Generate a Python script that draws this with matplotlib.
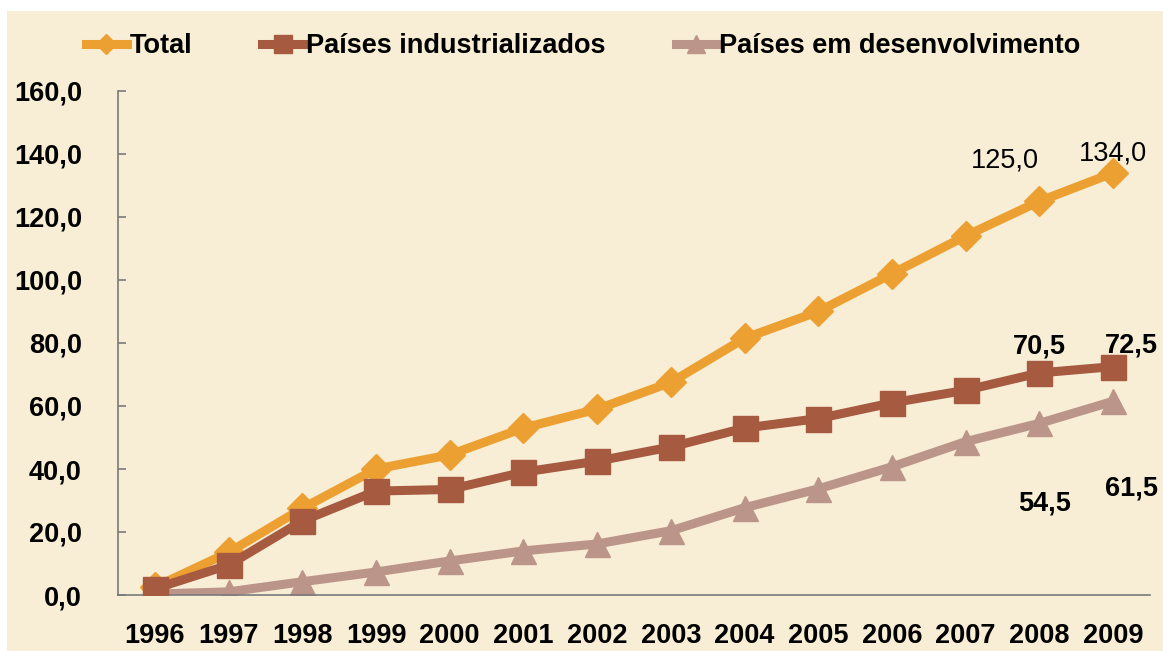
import numpy as np
import matplotlib.pyplot as plt
from matplotlib.patches import Rectangle

anos = ['1996', '1997', '1998', '1999', '2000', '2001', '2002', '2003',
        '2004', '2005', '2006', '2007', '2008', '2009']
total = [2.5, 13.5, 27.5, 40.0, 44.5, 53.0, 59.0, 67.5, 81.5, 90.0, 102.0, 114.0, 125.0, 134.0]
industrializados = [2.0, 9.5, 23.5, 33.0, 33.5, 39.0, 42.5, 47.0, 53.0, 56.0, 61.0, 65.0, 70.5, 72.5]
desenvolvimento = [0.3, 1.0, 4.2, 7.3, 10.8, 14.0, 16.2, 20.4, 27.7, 33.7, 40.7, 48.7, 54.5, 61.5]
y_ticks = [0, 20, 40, 60, 80, 100, 120, 140, 160]

bg = '#F8EDD5'
c_total = '#EDA032'
c_ind = '#A65A40'
c_dev = '#BC958A'

plt.rcParams['font.family'] = ['Liberation Sans', 'DejaVu Sans']

fig = plt.figure(figsize=(11.63, 6.51), dpi=100, facecolor='white')
fig.patches.append(Rectangle((7 / 1163, 0), 1, 1 - 11 / 651, transform=fig.transFigure,
                             facecolor=bg, edgecolor='none', zorder=-10))
ax = fig.add_axes([118 / 1163, 1 - 595 / 651, (1150 - 118) / 1163, (595 - 91) / 651])
ax.set_facecolor('none')

x = np.arange(len(anos))
ax.plot(x, total, color=c_total, lw=6.5, marker='D', ms=15, mec=c_total, label='Total', zorder=3)
ax.plot(x, industrializados, color=c_ind, lw=6.5, marker='s', ms=18, mec=c_ind,
        label='Países industrializados', zorder=4)
ax.plot(x, desenvolvimento, color=c_dev, lw=6.5, marker='^', ms=18, mec=c_dev,
        label='Países em desenvolvimento', zorder=2)

ax.set_xlim(-0.5, len(anos) - 0.5)
ax.set_ylim(0, 160)
ax.set_xticks(x)
ax.set_xticklabels(anos)
ax.set_yticks(y_ticks)
ax.set_yticklabels([f'{v:.1f}'.replace('.', ',') for v in y_ticks])
for s in ['top', 'right']:
    ax.spines[s].set_visible(False)
for s in ['left', 'bottom']:
    ax.spines[s].set_color('#7a7a7a')
    ax.spines[s].set_linewidth(1.2)
ax.tick_params(axis='y', direction='in', length=6, width=1.2, color='#7a7a7a',
               labelsize=19.5, pad=26)
ax.tick_params(axis='x', length=0, labelsize=19.5, pad=20)
for lab in ax.get_xticklabels() + ax.get_yticklabels():
    lab.set_fontweight('bold')

def fmt(v):
    return f'{v:.1f}'.replace('.', ',')

# rótulos de dados nos dois últimos anos
ax.annotate(fmt(total[-2]), (x[-2], total[-2]), xytext=(-25, 29), textcoords='offset points',
            ha='center', va='center', fontsize=19.5)
ax.annotate(fmt(total[-1]), (x[-1], total[-1]), xytext=(0, 14), textcoords='offset points',
            ha='center', va='center', fontsize=19.5)
ax.annotate(fmt(industrializados[-2]), (x[-2], industrializados[-2]), xytext=(0, 19),
            textcoords='offset points', ha='center', va='center', fontsize=19.5, fontweight='bold')
ax.annotate(fmt(industrializados[-1]), (x[-1], industrializados[-1]), xytext=(13, 15),
            textcoords='offset points', ha='center', va='center', fontsize=19.5, fontweight='bold')
ax.annotate(fmt(desenvolvimento[-2]), (x[-2], desenvolvimento[-2]), xytext=(4, -58),
            textcoords='offset points', ha='center', va='center', fontsize=19.5, fontweight='bold')
ax.annotate(fmt(desenvolvimento[-1]), (x[-1], desenvolvimento[-1]), xytext=(13, -63),
            textcoords='offset points', ha='center', va='center', fontsize=19.5, fontweight='bold')

leg = fig.legend(loc='center left', bbox_to_anchor=(86 / 1163, 1 - 46 / 651), ncol=3,
                 frameon=False, fontsize=19.5, handlelength=1.5, handletextpad=0.1,
                 columnspacing=2.6, borderpad=0, borderaxespad=0, markerscale=0.7)
for t in leg.get_texts():
    t.set_fontweight('bold')

fig.savefig('out.png', dpi=100, facecolor=fig.get_facecolor())
